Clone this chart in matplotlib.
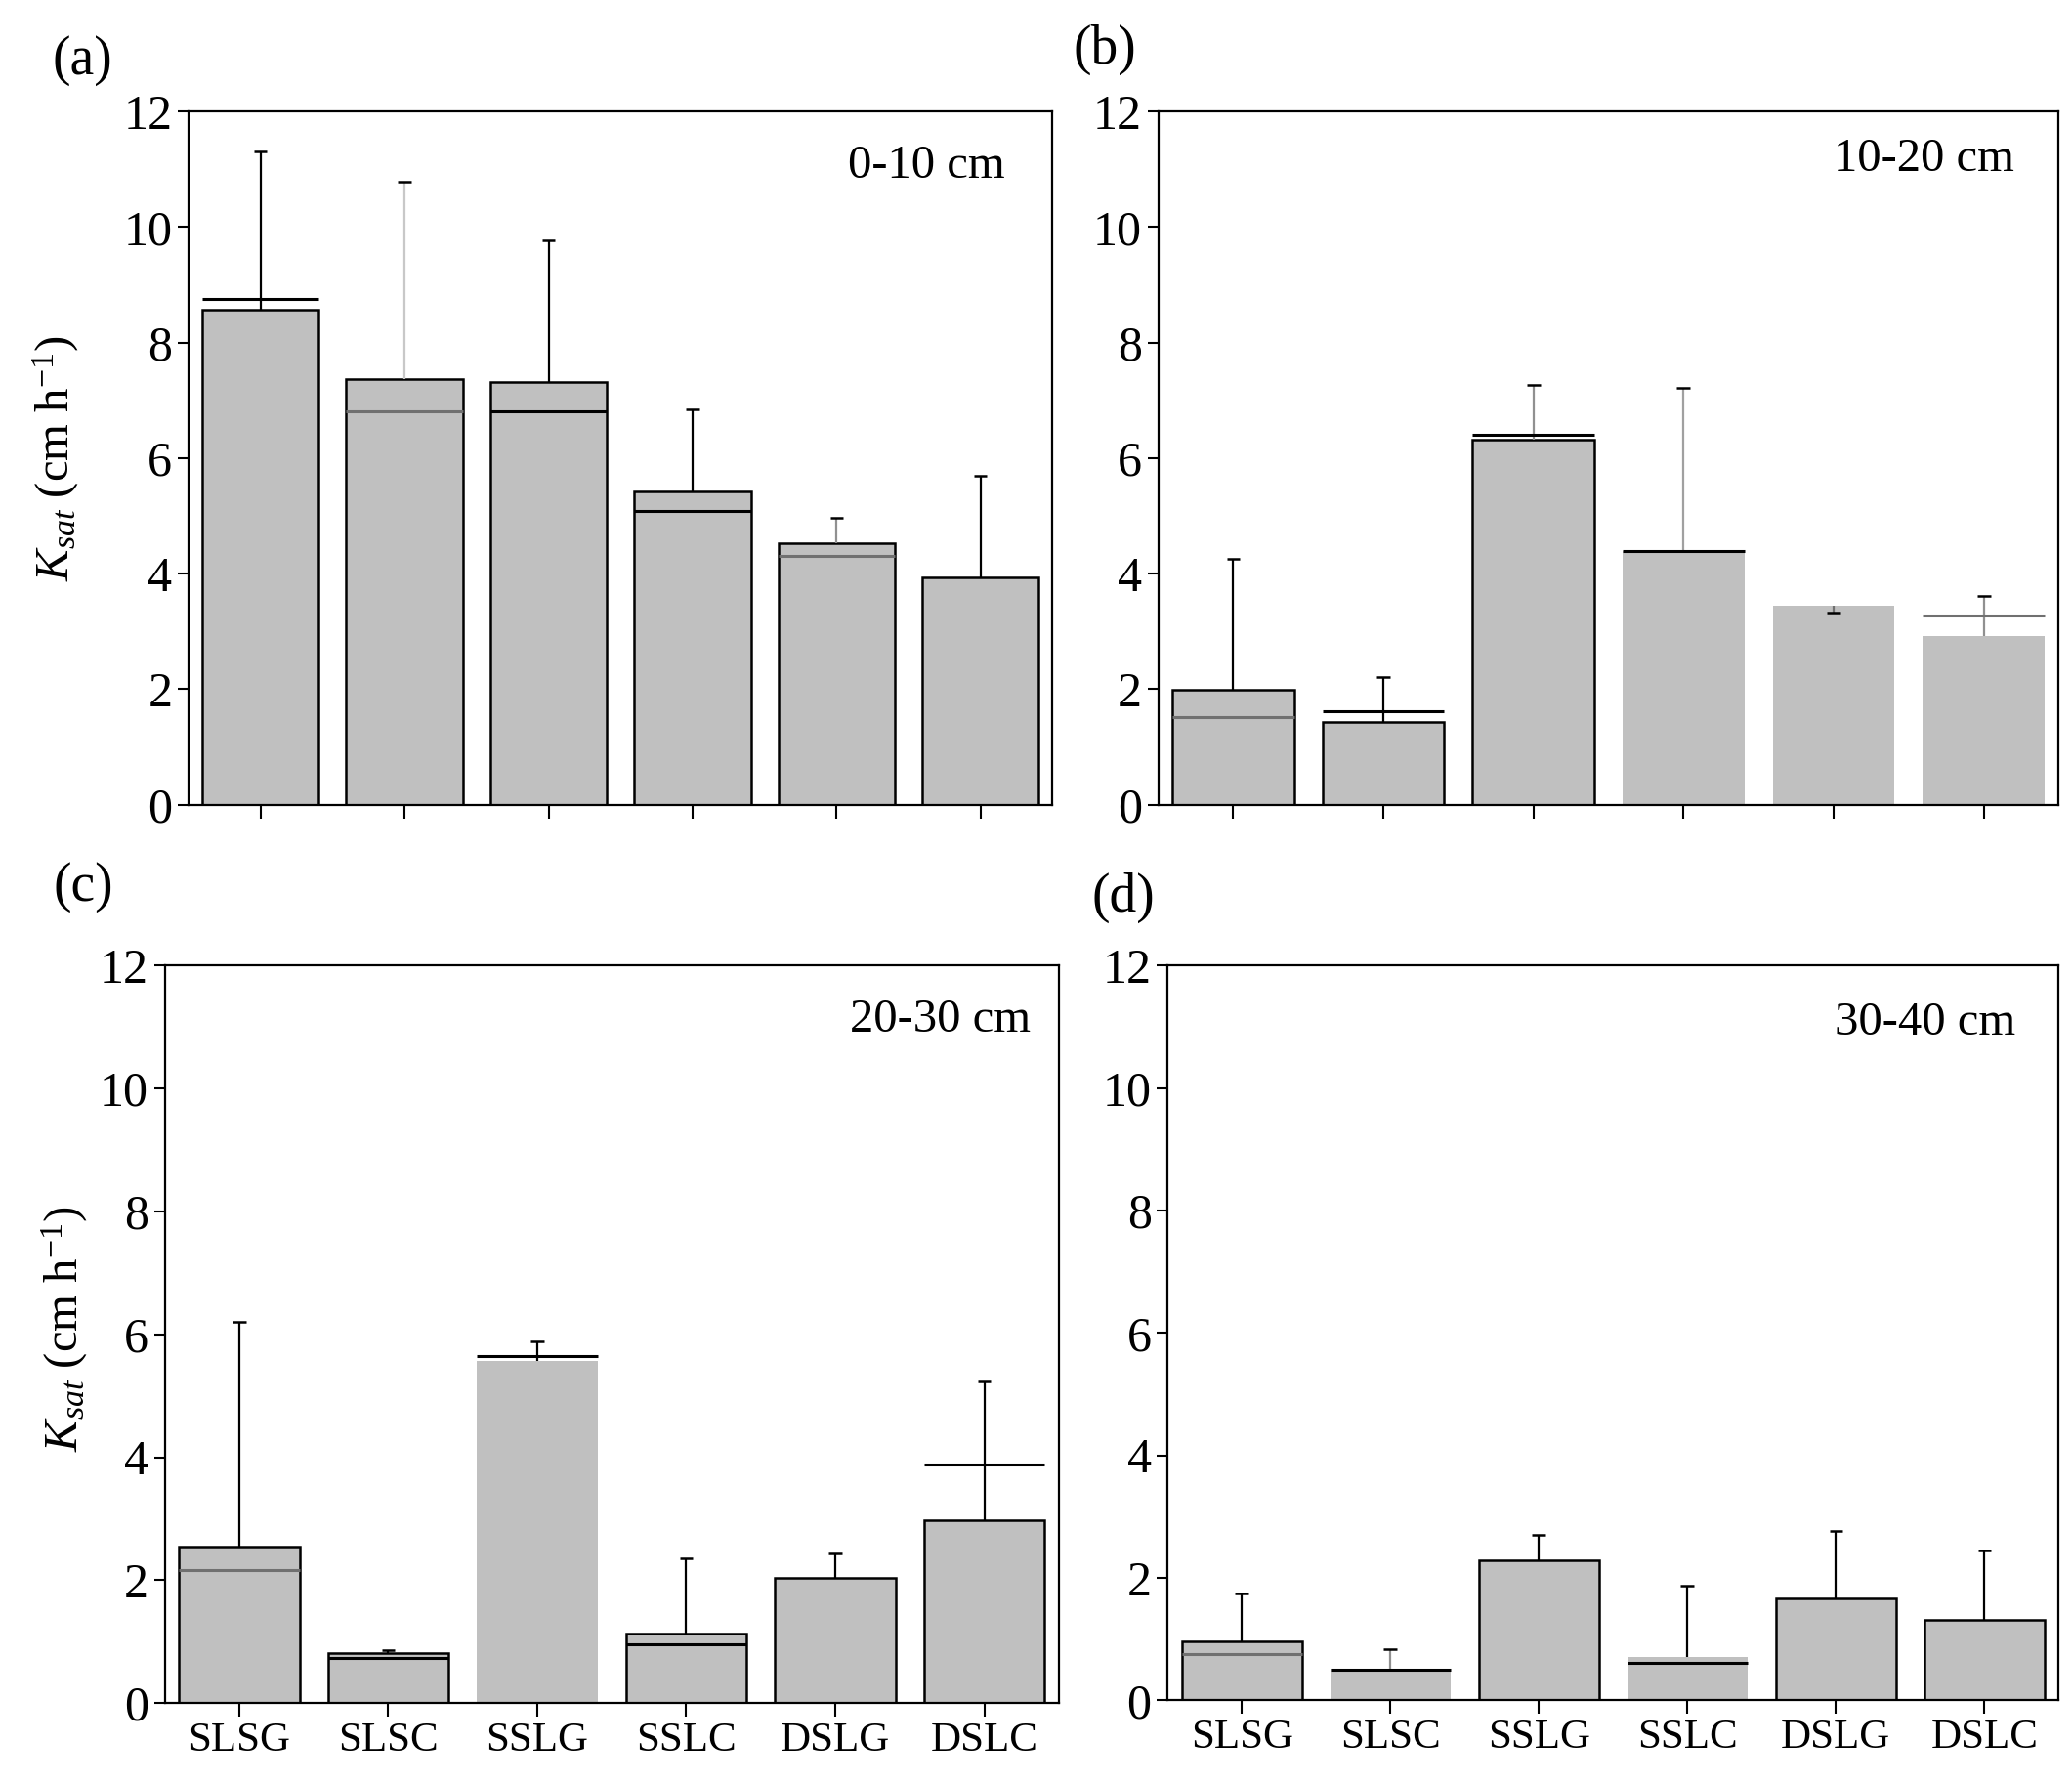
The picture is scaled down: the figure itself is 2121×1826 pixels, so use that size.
import numpy as np
import matplotlib
matplotlib.use('Agg')
import matplotlib.pyplot as plt

plt.rcParams['font.family'] = ['Liberation Serif', 'DejaVu Serif']
plt.rcParams['mathtext.fontset'] = 'custom'
plt.rcParams['mathtext.rm'] = 'Liberation Serif'
plt.rcParams['mathtext.it'] = 'Liberation Serif:italic'

groups = ['SLSG', 'SLSC', 'SSLG', 'SSLC', 'DSLG', 'DSLC']
depths = ['0-10 cm', '10-20 cm', '20-30 cm', '30-40 cm']
panel_tags = ['(a)', '(b)', '(c)', '(d)']

# bar heights (Ksat, cm h-1)
ksat_a = [8.57, 7.37, 7.32, 5.42, 4.53, 3.94]
ksat_b = [1.99, 1.43, 6.32, 4.39, 3.44, 2.91]
ksat_c = [2.55, 0.82, 5.57, 1.13, 2.04, 2.97]
ksat_d = [0.97, 0.52, 2.28, 0.70, 1.67, 1.31]

# top of the error whisker
err_a = [11.31, 10.79, 9.77, 6.85, 4.96, 5.70]
err_b = [4.26, 2.21, 7.27, 7.22, 3.33, 3.61]
err_c = [6.20, 0.86, 5.89, 2.36, 2.44, 5.24]
err_d = [1.75, 0.83, 2.71, 1.88, 2.76, 2.45]

# extra horizontal line drawn across each bar (nan = none)
mid_a = [8.76, 6.81, 6.81, 5.09, 4.30, np.nan]
mid_b = [1.52, 1.61, 6.40, 4.39, np.nan, 3.28]
mid_c = [2.17, 0.73, 5.64, 0.96, np.nan, 3.88]
mid_d = [0.75, 0.50, np.nan, 0.62, np.nan, np.nan]

# styling quirks of the original (edge / line / whisker colours)
edge_style = [
    ['k', 'k', 'k', 'k', 'k', 'k'],
    ['k', 'k', 'k', 'none', 'none', 'none'],
    ['k', 'k', 'none', 'k', 'k', 'k'],
    ['k', 'none', 'k', 'none', 'k', 'k'],
]
mid_style = [
    ['k', '#707070', 'k', 'k', '#707070', 'k'],
    ['#707070', 'k', 'k', 'k', 'k', '#707070'],
    ['#707070', 'k', 'k', 'k', 'k', 'k'],
    ['#707070', 'k', 'k', 'k', 'k', 'k'],
]
err_style = [
    ['k', '#c8c8c8', 'k', 'k', '#909090', 'k'],
    ['k', 'k', '#909090', '#a0a0a0', '#707070', '#909090'],
    ['k', 'k', 'k', 'k', 'k', 'k'],
    ['k', '#909090', 'k', 'k', 'k', 'k'],
]

ksat = [ksat_a, ksat_b, ksat_c, ksat_d]
errs = [err_a, err_b, err_c, err_d]
mids = [mid_a, mid_b, mid_c, mid_d]

fig = plt.figure(figsize=(21.21, 18.26), dpi=100)
boxes = [
    [0.091, 0.549, 0.417, 0.3885],
    [0.559, 0.549, 0.4346, 0.3885],
    [0.0795, 0.0454, 0.4315, 0.4133],
    [0.5635, 0.0469, 0.4301, 0.4118],
]
tag_pos = [(0.040, 0.966), (0.533, 0.972), (0.040, 0.503), (0.542, 0.497)]
depth_pos = [(0.945, 0.921), (0.951, 0.931), (0.969, 0.926), (0.951, 0.922)]

x = np.arange(len(groups))
w = 0.81
for i in range(4):
    ax = fig.add_axes(boxes[i])
    ax.bar(x, ksat[i], w, color='#c0c0c0', edgecolor=edge_style[i],
           linewidth=1.8, zorder=2)
    for j in range(len(groups)):
        top = errs[i][j]
        base = ksat[i][j]
        ax.vlines(x[j], base, top, color=err_style[i][j], lw=1.6, zorder=3)
        ax.hlines(top, x[j] - 0.045, x[j] + 0.045, color='k', lw=1.8, zorder=3)
        if not np.isnan(mids[i][j]):
            ax.hlines(mids[i][j], x[j] - w / 2, x[j] + w / 2,
                      color=mid_style[i][j], lw=2.2, zorder=4)
    ax.set_xlim(-0.5, 5.5)
    ax.set_ylim(0, 12)
    ax.set_yticks(range(0, 13, 2))
    ax.set_xticks(x)
    if i >= 2:
        ax.set_xticklabels(groups, fontsize=31)
    else:
        ax.set_xticklabels([])
    ax.tick_params(axis='y', labelsize=36, length=8, width=1.5, direction='out', pad=4)
    ax.tick_params(axis='x', length=10, width=1.5, direction='out', pad=4)
    for s in ax.spines.values():
        s.set_linewidth(1.6)
    ax.text(depth_pos[i][0], depth_pos[i][1], depths[i], transform=ax.transAxes,
            ha='right', va='center', fontsize=35)
    fig.text(tag_pos[i][0], tag_pos[i][1], panel_tags[i], ha='center',
             va='center', fontsize=40)

ylab = r'$K_{sat}$ (cm h$^{\mathregular{-1}}$)'
fig.text(0.027, 0.743, ylab, rotation=90, ha='center', va='center', fontsize=35)
fig.text(0.031, 0.255, ylab, rotation=90, ha='center', va='center', fontsize=35)

fig.savefig('out.png', dpi=100)
